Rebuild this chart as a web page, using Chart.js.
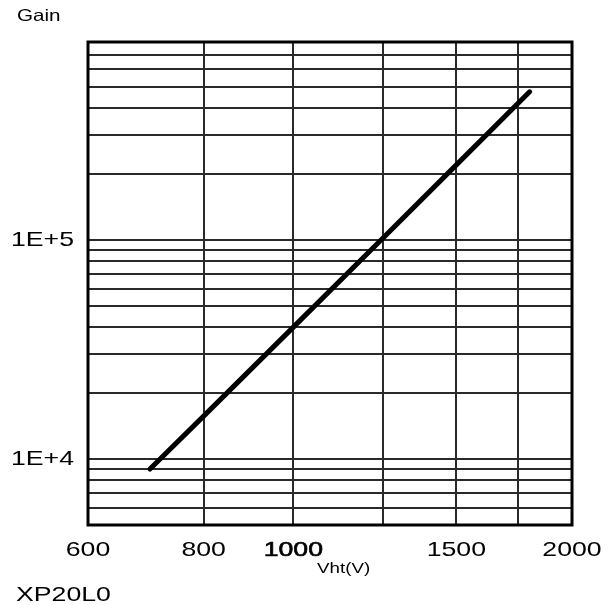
<!DOCTYPE html>
<html>
<head>
<meta charset="utf-8">
<script src="https://cdn.jsdelivr.net/npm/chart.js@4.4.1/dist/chart.umd.min.js"></script>
<style>
  html, body { margin: 0; padding: 0; background: #fff; }
  #wrap { position: relative; width: 613px; height: 605px; }
  canvas { position: absolute; left: 0; top: 0; }
  .lbl { position: absolute; font-family: "Liberation Sans", Arial, sans-serif; color: #000; white-space: nowrap; transform-origin: left top; line-height: 1.15; }
</style>
</head>
<body>
<div id="wrap">
  <canvas id="c" width="613" height="605"></canvas>
  <div class="lbl" id="gain" style="left:17px; top:6px; font-size:16.5px; transform:scaleX(1.25);">Gain</div>
  <div class="lbl" id="xt" style="left:317px; top:559px; font-size:15px; transform:scaleX(1.25);">Vht(V)</div>
  <div class="lbl" id="model" style="left:16px; top:582px; font-size:21px; transform:scaleX(1.27);">XP20L0</div>
</div>
<script>
// ---- data ----
const voltages = [700, 800, 1000, 1250, 1500, 1800];
const gains    = [9000, 15700, 40000, 102000, 220000, 474000];

const xTickValues = [600, 800, 1000, 1250, 1500, 1750, 2000];
const xTickLabels = ['600', '800', '1000', '', '1500', '', '2000'];

const yTickValues = [5000, 6000, 7000, 8000, 9000,
                     10000, 20000, 30000, 40000, 50000, 60000, 70000, 80000, 90000,
                     100000, 200000, 300000, 400000, 500000, 600000, 700000, 800000];
const yTickLabels = ['', '', '', '', '',
                     '1E+4', '', '', '', '', '', '', '', '',
                     '1E+5', '', '', '', '', '', '', ''];

const points = voltages.map((v, i) => ({ x: v, y: gains[i] }));

// the reference lettering is horizontally widened; widen canvas text the same way
const SX = 1.27;
const canvas = document.getElementById('c');
const ctx2d = canvas.getContext('2d');
const origFill = CanvasRenderingContext2D.prototype.fillText;
const origStroke = CanvasRenderingContext2D.prototype.strokeText;
ctx2d.fillText = function (t, x, y) {
  this.save(); this.translate(x, y); this.scale(SX, 1); origFill.call(this, t, 0, 0); this.restore();
};
ctx2d.strokeText = function (t, x, y) {
  this.save(); this.translate(x, y); this.scale(SX, 1); origStroke.call(this, t, 0, 0); this.restore();
};

const frame = {
  id: 'frame',
  afterDraw(chart) {
    const a = chart.chartArea, ctx = chart.ctx;
    ctx.save();
    ctx.strokeStyle = '#000';
    ctx.lineWidth = 3;
    ctx.strokeRect(a.left, a.top, a.right - a.left, a.bottom - a.top);
    ctx.restore();
  }
};

const FONT = '"Liberation Sans", Arial, sans-serif';

new Chart(ctx2d, {
  type: 'scatter',
  data: {
    datasets: [{
      data: points,
      showLine: true,
      borderColor: '#000',
      borderWidth: 5,
      borderCapStyle: 'round',
      pointRadius: 0,
      fill: false
    }]
  },
  options: {
    responsive: false,
    animation: false,
    layout: { padding: { top: 42, right: 41, left: 0, bottom: 0 } },
    plugins: { legend: { display: false }, tooltip: { enabled: false } },
    scales: {
      x: {
        type: 'logarithmic',
        min: 600, max: 2000,
        afterBuildTicks(s) { s.ticks = xTickValues.map(v => ({ value: v })); },
        afterFit(s) { s.height = 80; },
        grid: { color: '#2a2a2a', lineWidth: 2, drawTicks: false },
        border: { display: false },
        ticks: {
          autoSkip: false, maxRotation: 0, padding: 13,
          color: '#000',
          font: { family: FONT, size: 21 },
          textStrokeColor: '#000',
          textStrokeWidth: (ctx) => (ctx.tick && ctx.tick.value === 1000) ? 0.6 : 0,
          callback: (v, i) => xTickLabels[i]
        }
      },
      y: {
        type: 'logarithmic',
        min: 5000, max: 800000,
        afterBuildTicks(s) { s.ticks = yTickValues.map(v => ({ value: v })); },
        afterFit(s) { s.width = 88; },
        grid: { color: '#2a2a2a', lineWidth: 2, drawTicks: false },
        border: { display: false },
        ticks: {
          autoSkip: false, padding: 14,
          color: '#000',
          font: { family: FONT, size: 21 },
          callback: (v, i) => yTickLabels[i]
        }
      }
    }
  },
  plugins: [frame]
});
</script>
</body>
</html>
